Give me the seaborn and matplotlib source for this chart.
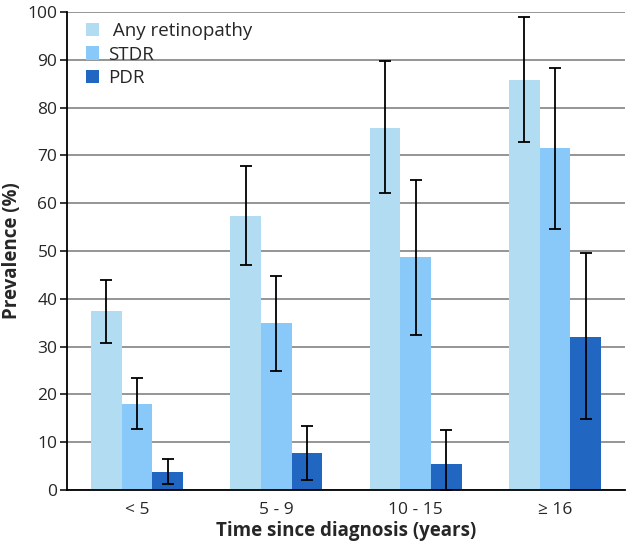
import pandas as pd
import matplotlib
matplotlib.use("Agg")
import matplotlib.pyplot as plt
import seaborn as sns

# Data
groups = ["< 5", "5 - 9", "10 - 15", "\u2265 16"]
series = ["Any retinopathy", "STDR", "PDR"]
any_ret = [37.4, 57.3, 75.8, 85.8]
stdr = [18.1, 34.9, 48.7, 71.5]
pdr = [3.8, 7.8, 5.4, 32.1]
any_lo = [30.8, 47.1, 62.1, 72.9]
any_hi = [44.0, 67.8, 89.7, 98.9]
stdr_lo = [12.8, 25.0, 32.4, 54.7]
stdr_hi = [23.5, 44.8, 64.8, 88.3]
pdr_lo = [1.2, 2.2, 0.0, 14.8]
pdr_hi = [6.5, 13.5, 12.6, 49.5]
colors = ["#B2DCF2", "#88C9F9", "#2166C1"]

df = pd.DataFrame({
    "group": groups * 3,
    "series": [s for s in series for _ in groups],
    "value": any_ret + stdr + pdr,
})
lows = any_lo + stdr_lo + pdr_lo
highs = any_hi + stdr_hi + pdr_hi

sns.set_style("white")
plt.rcParams["font.family"] = ["Open Sans", "DejaVu Sans"]

fig = plt.figure(figsize=(6.28, 5.47), dpi=100)
ax = fig.add_axes([0.107, 0.104, 0.888, 0.874])

sns.barplot(data=df, x="group", y="value", hue="series", order=groups,
            hue_order=series, palette=colors, errorbar=None, width=0.66,
            saturation=1, linewidth=0, ax=ax, zorder=2)

# asymmetric error bars placed on the drawn bars
bars = [p for p in ax.patches if p.get_height() > 0][:len(df)]
for p, v, lo, hi in zip(bars, df["value"], lows, highs):
    xc = p.get_x() + p.get_width() / 2
    ax.errorbar(xc, v, yerr=[[v - lo], [hi - v]], fmt="none", ecolor="black",
                elinewidth=1.3, capsize=4, capthick=1.3, zorder=3)

ax.set_ylim(0, 100)
ax.set_xlim(-0.5, 3.5)
ax.set_yticks(range(0, 101, 10))
ax.yaxis.grid(True, color="#8c8c8c", linewidth=1.3, zorder=0)
ax.set_axisbelow(True)
for s in ["top", "right"]:
    ax.spines[s].set_visible(False)
ax.spines["left"].set_color("black")
ax.spines["bottom"].set_color("black")
ax.spines["left"].set_linewidth(1.3)
ax.spines["bottom"].set_linewidth(1.3)
ax.tick_params(axis="y", left=True, length=5, width=1.3, labelsize=12.5, pad=2)
ax.tick_params(axis="x", bottom=False, labelsize=12.5, pad=5)
ax.set_xlabel("Time since diagnosis (years)", fontsize=13.5, fontweight="bold", labelpad=2)
ax.set_ylabel("Prevalence (%)", fontsize=13.5, fontweight="bold", labelpad=4)

leg = ax.legend(loc="upper left", frameon=False, fontsize=13.5, handlelength=0.7,
                handleheight=0.7, handletextpad=0.5, labelspacing=0.3,
                borderaxespad=0, bbox_to_anchor=(0.02, 0.995))
leg.get_texts()[0].set_text(" Any retinopathy")

fig.savefig("out.png", dpi=100)
